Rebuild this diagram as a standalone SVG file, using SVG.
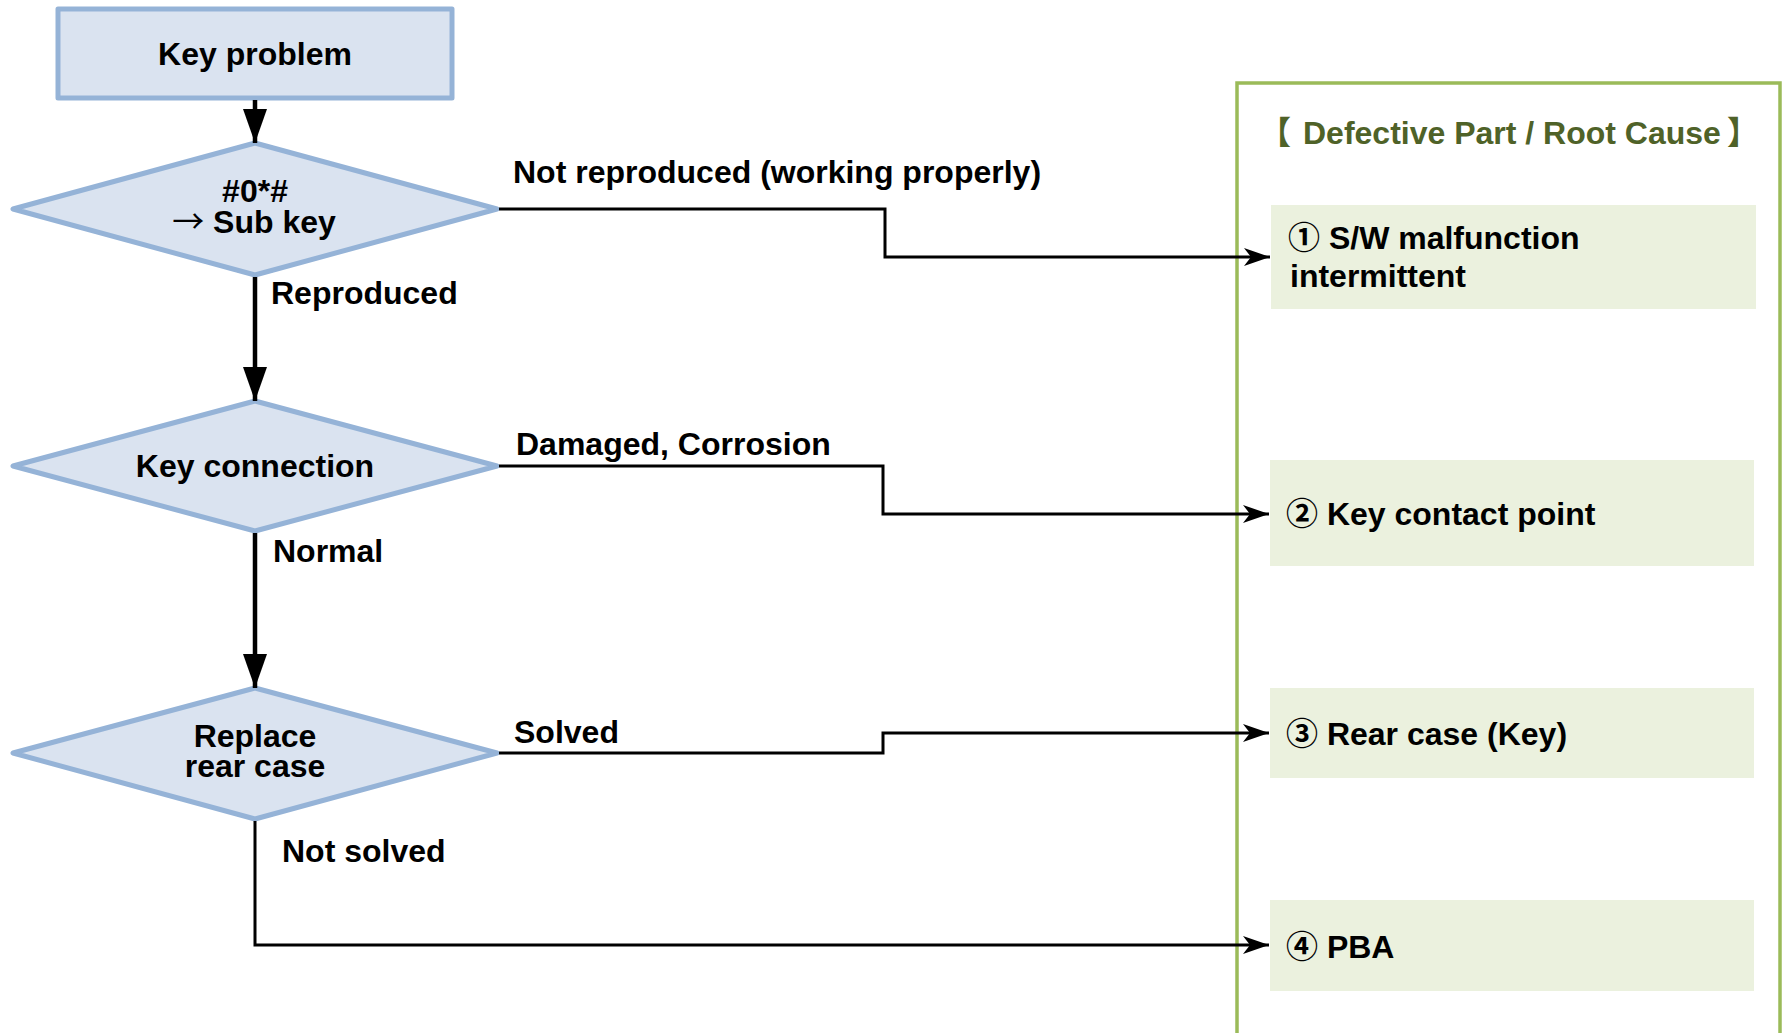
<svg xmlns="http://www.w3.org/2000/svg" width="1783" height="1033" viewBox="0 0 1783 1033">
  <style>
    .lbl { font-family: "Liberation Sans", Arial, "Noto Sans CJK KR", sans-serif; font-weight: bold; font-size: 32px; fill: #000; }
    .mid { text-anchor: middle; }
    .title { fill: #4f6228; }
    .arrowglyph { font-family: "Noto Sans CJK KR", sans-serif; font-weight: normal; }
    .step { fill: #dae3f0; stroke: #95b3d7; stroke-width: 5; stroke-linejoin: round; }
    .cause { fill: #ebf1de; stroke: none; }
    .frame { fill: none; stroke: #9bbb59; stroke-width: 3.5; }
    .flow { fill: none; stroke: #000; stroke-width: 4.5; }
    .link { fill: none; stroke: #000; stroke-width: 3; }
  </style>
  <defs>
    <marker id="bigArrow" markerUnits="userSpaceOnUse" viewBox="0 0 34 24" markerWidth="34" markerHeight="24" refX="34" refY="12" orient="auto">
      <path d="M0,0 L34,12 L0,24 z" fill="#000"/>
    </marker>
    <marker id="smallArrow" markerUnits="userSpaceOnUse" viewBox="0 0 26 18" markerWidth="26" markerHeight="18" refX="26" refY="9" orient="auto">
      <path d="M0,0 L26,9 L0,18 L7,9 z" fill="#000"/>
    </marker>
  </defs>

  <rect width="1783" height="1033" fill="#fff"/>

  <!-- cause panel -->
  <g id="cause-panel">
    <rect class="frame" x="1237" y="83" width="543" height="1000"/>
    <text class="lbl title" y="144"><tspan x="1259">【</tspan><tspan x="1303">Defective Part / Root Cause</tspan><tspan x="1727">】</tspan></text>
  </g>

  <g id="cause-sw">
    <rect class="cause" x="1271" y="205" width="485" height="104"/>
    <text class="lbl" x="1288" y="249">① S/W malfunction</text>
    <text class="lbl" x="1290" y="287">intermittent</text>
  </g>
  <g id="cause-contact">
    <rect class="cause" x="1270" y="460" width="484" height="106"/>
    <text class="lbl" x="1286" y="525">② Key contact point</text>
  </g>
  <g id="cause-rear">
    <rect class="cause" x="1270" y="688" width="484" height="90"/>
    <text class="lbl" x="1286" y="745">③ Rear case (Key)</text>
  </g>
  <g id="cause-pba">
    <rect class="cause" x="1270" y="900" width="484" height="91"/>
    <text class="lbl" x="1286" y="958">④ PBA</text>
  </g>

  <!-- flow nodes -->
  <g id="start">
    <rect class="step" x="58" y="9" width="394" height="89"/>
    <text class="lbl mid" x="255" y="65">Key problem</text>
  </g>
  <g id="check-subkey">
    <polygon class="step" points="255,143 497,209 255,275 13,209"/>
    <text class="lbl mid" x="255" y="202">#0*#</text>
    <text class="lbl mid" x="254" y="233"><tspan class="arrowglyph">→</tspan> Sub key</text>
  </g>
  <g id="check-connection">
    <polygon class="step" points="255,401 497,466 255,531 13,466"/>
    <text class="lbl mid" x="255" y="477">Key connection</text>
  </g>
  <g id="check-rearcase">
    <polygon class="step" points="255,688 497,753 255,819 13,753"/>
    <text class="lbl mid" x="255" y="747">Replace</text>
    <text class="lbl mid" x="255" y="777">rear case</text>
  </g>

  <!-- connectors -->
  <g id="connectors">
    <path class="flow" d="M255,100 V143" marker-end="url(#bigArrow)"/>
    <path class="flow" d="M255,277 V401" marker-end="url(#bigArrow)"/>
    <path class="flow" d="M255,533 V688" marker-end="url(#bigArrow)"/>
    <path class="link" d="M499,209 H885 V257 H1270" marker-end="url(#smallArrow)"/>
    <path class="link" d="M499,466 H883 V514 H1269" marker-end="url(#smallArrow)"/>
    <path class="link" d="M499,753 H883 V733 H1269" marker-end="url(#smallArrow)"/>
    <path class="link" d="M255,821 V945 H1269" marker-end="url(#smallArrow)"/>

    <text class="lbl" x="513" y="183">Not reproduced (working properly)</text>
    <text class="lbl" x="271" y="304">Reproduced</text>
    <text class="lbl" x="516" y="455">Damaged, Corrosion</text>
    <text class="lbl" x="273" y="562">Normal</text>
    <text class="lbl" x="514" y="743">Solved</text>
    <text class="lbl" x="282" y="862">Not solved</text>
  </g>
</svg>
